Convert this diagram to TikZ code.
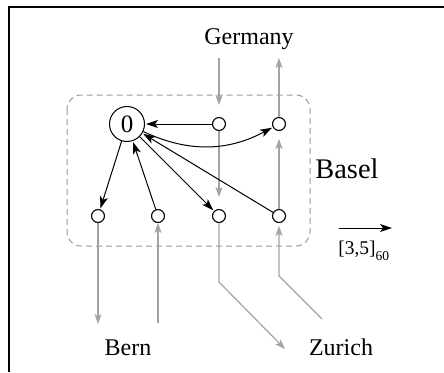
\documentclass[tikz,border=0pt]{standalone}
\usepackage{fontspec}
\setmainfont{Liberation Serif}
\usetikzlibrary{arrows.meta}
\tikzset{
  frameline/.style={line width=1pt},
  bignode/.style={circle,draw,line width=0.5pt,fill=white,minimum size=17.5pt,inner sep=0pt,font=\fontsize{12.5}{14}\selectfont},
  smallnode/.style={circle,draw,line width=0.5pt,fill=white,minimum size=6.4pt,inner sep=0pt},
  flow/.style={draw=black!36,line width=0.6pt,-{Stealth[length=5pt,width=3.5pt,inset=1.2pt]},shorten >=2.5pt},
  link/.style={draw=black,line width=0.5pt,-{Stealth[length=6pt,width=4pt,inset=1.5pt]},shorten >=0.5pt},
  region/.style={draw=black!40,dash pattern=on 3pt off 2pt,line width=0.5pt,rounded corners=7pt},
  lbl/.style={font=\fontsize{12}{14}\selectfont,inner sep=0pt},
}
\begin{document}
\begin{tikzpicture}[x=0.5pt,y=-0.5pt]
\useasboundingbox (0,0) rectangle (444,372);
% frame
\draw[frameline] (444,7) -- (8.5,7) -- (8.5,372);
% region
\draw[region] (67,95) rectangle (310,246);
% coordinates of flows
\coordinate (gtop) at (219,58);
\coordinate (gout) at (279,58);
\coordinate (bernend) at (98,324);
\coordinate (bernstart) at (158,323);
\coordinate (zbend1) at (219,282);
\coordinate (zend) at (285,349);
\coordinate (zbend2) at (279,276);
\coordinate (zstart) at (322,319);
% nodes
\node[bignode] (n0) at (127,124) {0};
\node[smallnode] (t3) at (219,124) {};
\node[smallnode] (t4) at (279,124) {};
\node[smallnode] (b1) at (98,216) {};
\node[smallnode] (b2) at (158,216) {};
\node[smallnode] (b3) at (219,216) {};
\node[smallnode] (b4) at (279,216) {};
% gray flows
\draw[flow,shorten >=6pt] (gtop) -- (t3);
\draw[flow,shorten >=6pt] (t3) -- (b3);
\draw[flow,shorten >=0pt] (b3) -- (zbend1) -- (zend);
\draw[flow,shorten >=1.5pt] (zstart) -- (zbend2) -- (b4);
\draw[flow,shorten >=4pt] (b4) -- (t4);
\draw[flow,shorten >=0pt] (t4) -- (gout);
\draw[flow,shorten >=0pt] (b1) -- (bernend);
\draw[flow,shorten >=0pt] (bernstart) -- (b2);
% redraw small nodes on top
\foreach \n in {t3,t4,b1,b2,b3,b4}{\draw[line width=0.5pt,fill=white] (\n) circle (3.2pt);}
% black links
\draw[link] (t3) -- (n0);
\draw[link] (n0) to[out=-25,in=208] (t4);
\draw[link] (n0) -- (b1);
\draw[link] (b2) -- (n0);
\draw[link] (n0) -- (b3);
\draw[link] (b4) -- (n0);
% labels
\node[lbl,anchor=base] (germany) at (249,44) {Germany};
\node[lbl,anchor=base] (bern) at (128,355) {Bern};
\node[lbl,anchor=base] (zurich) at (341,355) {Zurich};
\node[lbl,anchor=base west,font=\fontsize{14.2}{16}\selectfont] (basel) at (315,178) {Basel};
% legend
\coordinate (la) at (339,228);
\coordinate (lb) at (392,228);
\draw[link,shorten >=0pt] (la) -- (lb);
\node[anchor=base west,inner sep=0pt,font=\fontsize{9.7}{11}\selectfont] (leg) at (338,254) {[3,5]\raisebox{-3.4pt}{\fontsize{6.8}{8}\selectfont 60}};
\end{tikzpicture}
\end{document}
